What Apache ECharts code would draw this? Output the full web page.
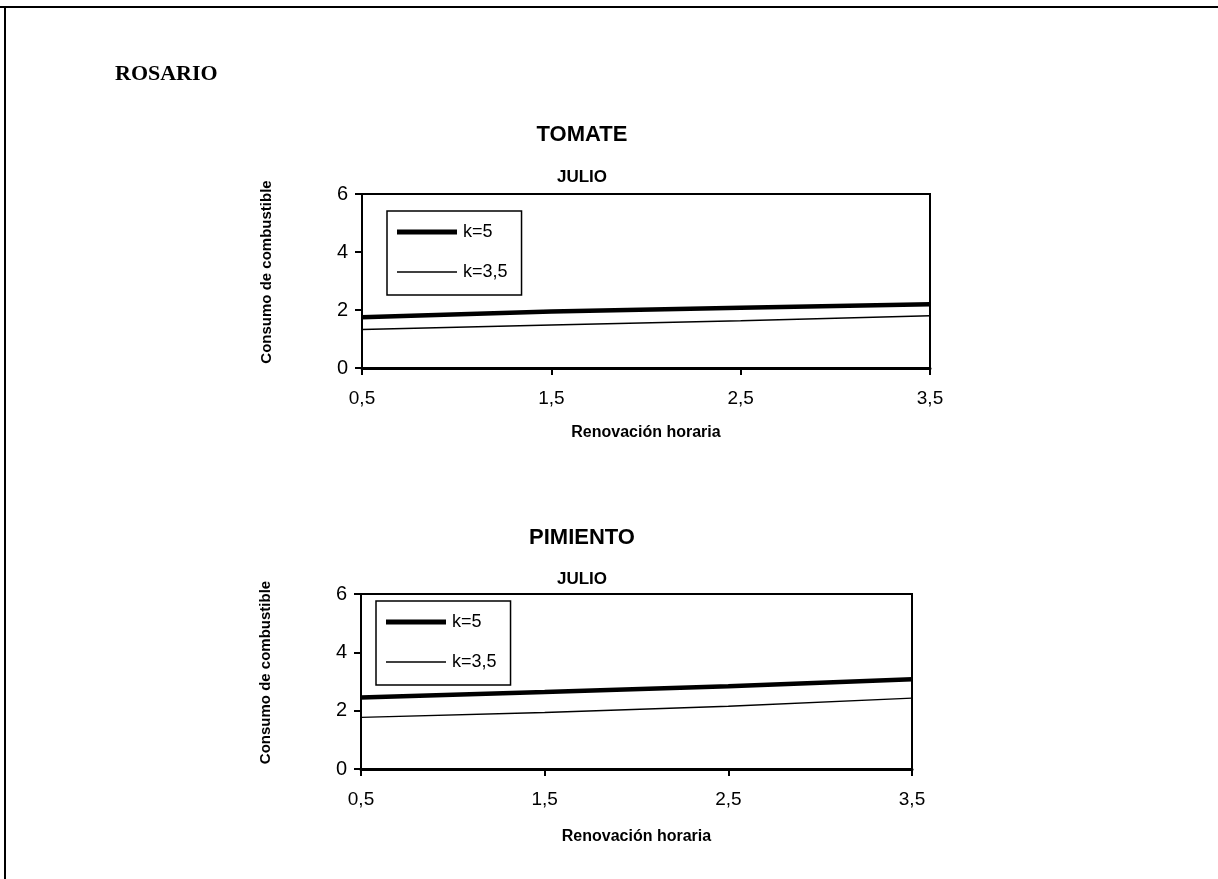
<!DOCTYPE html>
<html>
<head>
<meta charset="utf-8">
<script src="https://cdn.jsdelivr.net/npm/echarts@6/dist/echarts.min.js"></script>
<style>
  html, body { margin: 0; padding: 0; background: #fff; }
  #chart { width: 1218px; height: 879px; }
</style>
</head>
<body>
<div id="chart"></div>
<script>
// datos
var renovacion = ['0,5', '1,5', '2,5', '3,5'];
var tomateK5 = [1.75, 1.95, 2.08, 2.2];
var tomateK35 = [1.33, 1.48, 1.63, 1.8];
var pimientoK5 = [2.45, 2.64, 2.84, 3.08];
var pimientoK35 = [1.77, 1.94, 2.15, 2.43];
var yTicks = [0, 2, 4, 6];
var nombres = ['k=5', 'k=3,5'];

var sans = 'Liberation Sans';

// iconos de leyenda: trazo grueso y fino dentro de una caja de 60x16
var iconos = {
  'k=5': 'path://M0,0 M60,16 M0,5.5 L60,5.5 L60,10.5 L0,10.5 Z',
  'k=3,5': 'path://M0,0 M60,16 M0,7.25 L60,7.25 L60,8.75 L0,8.75 Z'
};

function xAxis(grid, gap) {
  return {
    type: 'category', gridIndex: grid, data: renovacion, boundaryGap: false,
    name: 'Renovación horaria', nameLocation: 'middle', nameGap: gap,
    nameTextStyle: { color: '#000', fontFamily: sans, fontWeight: 'bold', fontSize: 16 },
    axisLine: { lineStyle: { color: '#000', width: 3 } },
    axisTick: { show: true, length: 7, alignWithLabel: true, lineStyle: { color: '#000', width: 2 } },
    axisLabel: { color: '#000', fontFamily: sans, fontSize: 19, margin: 21 },
    splitLine: { show: false }
  };
}

function yAxis(grid) {
  return {
    type: 'value', gridIndex: grid, min: yTicks[0], max: yTicks[yTicks.length - 1], interval: 2,
    name: 'Consumo de combustible', nameLocation: 'middle', nameGap: 88, nameRotate: 90,
    nameTextStyle: { color: '#000', fontFamily: sans, fontWeight: 'bold', fontSize: 15, padding: [0, 0, 0, 18] },
    axisLine: { show: true, lineStyle: { color: '#000', width: 2 } },
    axisTick: { show: true, length: 7, lineStyle: { color: '#000', width: 2 } },
    axisLabel: { color: '#000', fontFamily: sans, fontSize: 20, margin: 14 },
    splitLine: { show: false }
  };
}

function serie(name, idx, data, width) {
  return {
    name: name, type: 'line', xAxisIndex: idx, yAxisIndex: idx, data: data,
    symbol: 'none', lineStyle: { color: '#000', width: width }, itemStyle: { color: '#000' },
    silent: true, animation: false
  };
}

function legend(left, top) {
  return {
    data: nombres.map(function (n) { return { name: n, icon: iconos[n] }; }),
    left: left, top: top, orient: 'vertical',
    backgroundColor: '#fff', borderColor: '#000', borderWidth: 1.5,
    padding: [12, 14, 14, 10], itemGap: 22, itemWidth: 60, itemHeight: 16,
    itemStyle: { color: '#000', borderWidth: 0 },
    textStyle: { color: '#000', fontFamily: sans, fontSize: 18, padding: [0, 0, 0, 1] }
  };
}

var chart = echarts.init(document.getElementById('chart'), null, { renderer: 'canvas' });

var option = {
  backgroundColor: '#fff',
  animation: false,
  title: [
    { text: 'ROSARIO', left: 110, top: 58, textStyle: { fontFamily: 'Liberation Serif', fontWeight: 'bold', fontSize: 22, color: '#000' } },
    { text: 'TOMATE', left: 577, top: 119, textAlign: 'center', textStyle: { fontFamily: sans, fontWeight: 'bold', fontSize: 22, color: '#000' } },
    { text: 'JULIO', left: 577, top: 164, textAlign: 'center', textStyle: { fontFamily: sans, fontWeight: 'bold', fontSize: 17, color: '#000' } },
    { text: 'PIMIENTO', left: 577, top: 522, textAlign: 'center', textStyle: { fontFamily: sans, fontWeight: 'bold', fontSize: 22, color: '#000' } },
    { text: 'JULIO', left: 577, top: 566, textAlign: 'center', textStyle: { fontFamily: sans, fontWeight: 'bold', fontSize: 17, color: '#000' } }
  ],
  grid: [
    { left: 362, top: 194, right: 288, bottom: 511, show: true, borderColor: '#000', borderWidth: 2, backgroundColor: 'transparent' },
    { left: 361, top: 594, right: 306, bottom: 110, show: true, borderColor: '#000', borderWidth: 2, backgroundColor: 'transparent' }
  ],
  xAxis: [xAxis(0, 57), xAxis(1, 60)],
  yAxis: [yAxis(0), yAxis(1)],
  legend: [legend(387, 211), legend(376, 601)],
  series: [
    serie('k=5', 0, tomateK5, 4.5),
    serie('k=3,5', 0, tomateK35, 1.5),
    serie('k=5', 1, pimientoK5, 4.5),
    serie('k=3,5', 1, pimientoK35, 1.5)
  ],
  graphic: [
    { type: 'line', shape: { x1: 0, y1: 7, x2: 1218, y2: 7 }, style: { stroke: '#000', lineWidth: 2 } },
    { type: 'line', shape: { x1: 5, y1: 6, x2: 5, y2: 879 }, style: { stroke: '#000', lineWidth: 2 } }
  ]
};

chart.setOption(option);
</script>
</body>
</html>
